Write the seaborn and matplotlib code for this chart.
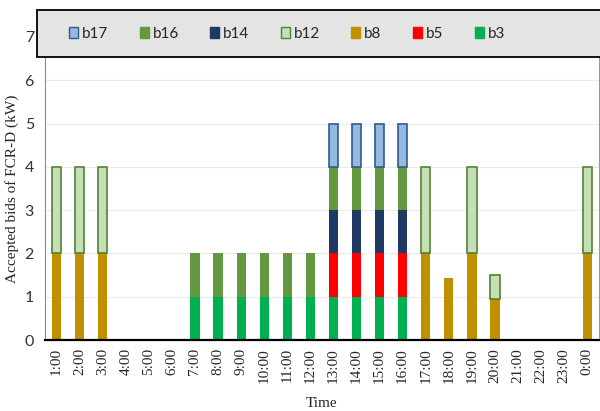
import numpy as np
import matplotlib
matplotlib.use("Agg")
import matplotlib.pyplot as plt
from matplotlib.patches import Rectangle, Patch
import seaborn as sns

# hourly accepted bids (kW) per bid id
hours = ["1:00", "2:00", "3:00", "4:00", "5:00", "6:00", "7:00", "8:00",
         "9:00", "10:00", "11:00", "12:00", "13:00", "14:00", "15:00", "16:00",
         "17:00", "18:00", "19:00", "20:00", "21:00", "22:00", "23:00", "0:00"]
b3 = [0, 0, 0, 0, 0, 0, 1, 1, 1, 1, 1, 1, 1, 1, 1, 1, 0, 0, 0, 0, 0, 0, 0, 0]
b5 = [0, 0, 0, 0, 0, 0, 0, 0, 0, 0, 0, 0, 1, 1, 1, 1, 0, 0, 0, 0, 0, 0, 0, 0]
b8 = [2, 2, 2, 0, 0, 0, 0, 0, 0, 0, 0, 0, 0, 0, 0, 0, 2, 1.43, 2, 0.95, 0, 0, 0, 2]
b14 = [0, 0, 0, 0, 0, 0, 0, 0, 0, 0, 0, 0, 1, 1, 1, 1, 0, 0, 0, 0, 0, 0, 0, 0]
b16 = [0, 0, 0, 0, 0, 0, 1, 1, 1, 1, 1, 1, 1, 1, 1, 1, 0, 0, 0, 0, 0, 0, 0, 0]
b12 = [2, 2, 2, 0, 0, 0, 0, 0, 0, 0, 0, 0, 0, 0, 0, 0, 2, 0, 2, 0.55, 0, 0, 0, 2]
b17 = [0, 0, 0, 0, 0, 0, 0, 0, 0, 0, 0, 0, 1, 1, 1, 1, 0, 0, 0, 0, 0, 0, 0, 0]

# stacking order bottom -> top: (name, values, face, edge)
stack = [
    ("b3", b3, "#00B050", None),
    ("b5", b5, "#FF0000", None),
    ("b8", b8, "#BF9000", None),
    ("b14", b14, "#1F3864", None),
    ("b16", b16, "#62993E", None),
    ("b12", b12, "#C5E0B4", "#548235"),
    ("b17", b17, "#95B9E0", "#2F5B8C"),
]
legend_order = ["b17", "b16", "b14", "b12", "b8", "b5", "b3"]

sns.set_style("white")
serif = "Liberation Serif"
sans = "Lato"

fig = plt.figure(figsize=(6, 4.11), dpi=100)
ax = fig.add_axes([0.075, 0.1727, 0.923, 0.7373])

bottom = np.zeros(len(hours))
for name, vals, fc, ec in stack:
    vals = np.array(vals, dtype=float)
    n0 = len(ax.patches)
    sns.barplot(x=hours, y=vals, order=hours, color=fc, saturation=1,
                width=0.4, bottom=bottom, errorbar=None, ax=ax,
                edgecolor=ec if ec else fc, linewidth=1.2 if ec else 0)
    # hide empty segments so outlined series leave no flat line
    for p in ax.patches[n0:]:
        if p.get_height() == 0:
            p.set_visible(False)
    bottom += vals

ax.set_xlim(-0.5, len(hours) - 0.5)
ax.set_ylim(0, 7)
ax.set_yticks(range(8))
ax.yaxis.grid(True, color="#EBEBEB", linewidth=0.8)
ax.set_axisbelow(True)
ax.tick_params(axis="both", length=0)
ax.tick_params(axis="y", pad=8)
ax.tick_params(axis="x", pad=6)
for lab in ax.get_yticklabels():
    lab.set_fontfamily(sans)
    lab.set_fontsize(11.5)
    lab.set_color("#333333")
ax.set_xticks(range(len(hours)))
ax.set_xticklabels(hours, rotation=90, fontfamily=serif, fontsize=11)
ax.set_xlabel("Time", fontfamily=serif, fontsize=11, labelpad=10)
ax.set_ylabel("Accepted bids of FCR-D (kW)", fontfamily=serif, fontsize=11, labelpad=4)

ax.spines["top"].set_visible(False)
ax.spines["left"].set_color("#888888")
ax.spines["right"].set_color("#999999")
ax.spines["bottom"].set_color("black")
ax.spines["bottom"].set_linewidth(1.6)

# grey legend band across the top
band = Rectangle((0.0617, 0.861), 0.96, 0.115, transform=fig.transFigure,
                 facecolor="#E4E4E4", edgecolor="black", linewidth=1.3, zorder=3)
fig.add_artist(band)

styles = {name: (fc, ec) for name, _, fc, ec in stack}
handles = [Patch(facecolor=styles[n][0], edgecolor=styles[n][1] or styles[n][0],
                 linewidth=1.0) for n in legend_order]
fig.legend(handles, legend_order, ncol=7, loc="center left",
           bbox_to_anchor=(0.092, 0.918), frameon=False,
           prop={"family": sans, "size": 11}, handlelength=0.6, handleheight=0.7,
           handletextpad=0.25, columnspacing=2.05)

fig.savefig("out.png", dpi=100)
